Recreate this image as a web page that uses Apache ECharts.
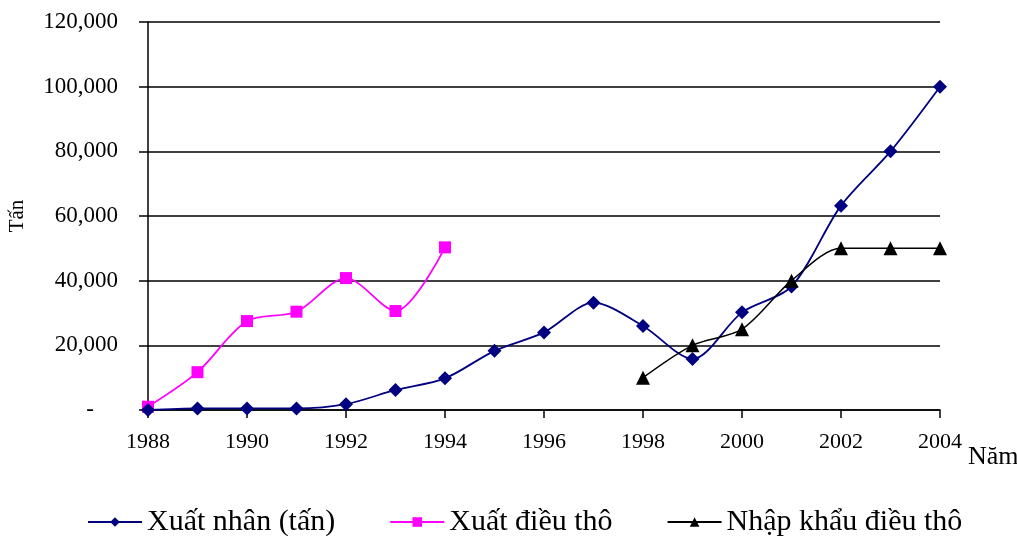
<!DOCTYPE html>
<html>
<head>
<meta charset="utf-8">
<script src="https://cdn.jsdelivr.net/npm/echarts@6/dist/echarts.min.js"></script>
<style>
  html, body { margin: 0; padding: 0; background: #fff; }
  #main { width: 1017px; height: 536px; }
</style>
</head>
<body>
<div id="main"></div>
<script>
// năm 1988 - 2004
const years = [1988, 1989, 1990, 1991, 1992, 1993, 1994, 1995, 1996,
               1997, 1998, 1999, 2000, 2001, 2002, 2003, 2004];
const xuatNhan = [0, 500, 500, 500, 1800, 6200, 9800, 18300, 24000,
                  33200, 26000, 15800, 30200, 38200, 63200, 80000, 100000];
// chỉ có số liệu 1988 - 1994
const xuatDieuTho = [1000, 11700, 27500, 30400, 40800, 30600, 50300];
// chỉ có số liệu 1998 - 2004
const nhapKhau = [10000, 20000, 25000, 40000, 50000, 50000, 50000];

const FONT = '"Liberation Serif", "Times New Roman", serif';

function pairs(startYear, vals) {
    let start = years.indexOf(startYear);
    return vals.map((v, i) => [years[start + i], v]);
}

let chart = echarts.init(document.getElementById('main'), null, {renderer: 'canvas'});

let option = {
    animation: false,
    backgroundColor: '#fff',
    textStyle: {fontFamily: FONT, color: '#000'},
    grid: {left: 148, right: 77, top: 22, bottom: 126, containLabel: false, outerBoundsMode: 'none'},
    legend: {
        left: 82,
        top: 502,
        itemWidth: 54,
        itemHeight: 12,
        itemGap: 54,
        textStyle: {fontFamily: FONT, fontSize: 30, color: '#000'},
        data: ['Xuất nhân (tấn)', 'Xuất điều thô', 'Nhập khẩu điều thô']
    },
    xAxis: {
        type: 'value',
        min: 1988,
        max: 2004,
        interval: 2,
        name: 'Năm',
        nameLocation: 'end',
        nameGap: 46,
        nameTextStyle: {fontFamily: FONT, fontSize: 26, color: '#000', align: 'center',
                        verticalAlign: 'top', padding: [34, 0, 0, 0]},
        axisLine: {lineStyle: {color: '#000', width: 1.5}},
        axisTick: {show: true, inside: false, length: 8, lineStyle: {color: '#000', width: 1.5}},
        axisLabel: {fontFamily: FONT, fontSize: 22, color: '#000', margin: 21,
                    formatter: v => String(v)},
        splitLine: {show: false}
    },
    yAxis: {
        type: 'value',
        min: 0,
        max: 120000,
        interval: 20000,
        name: 'Tấn',
        nameLocation: 'middle',
        nameRotate: 90,
        nameGap: 120,
        nameTextStyle: {fontFamily: FONT, fontSize: 21, color: '#000'},
        axisLine: {show: true, lineStyle: {color: '#000', width: 1.5}},
        axisTick: {show: true, inside: false, length: 9, lineStyle: {color: '#000', width: 1.5}},
        axisLabel: {
            fontFamily: FONT, fontSize: 23, color: '#000', margin: 30,
            formatter: v => v === 0 ? '{dash|-}' : v.toLocaleString('en-US'),
            rich: {dash: {fontFamily: FONT, fontSize: 23, color: '#000', padding: [0, 24, 0, 0]}}
        },
        splitLine: {show: true, lineStyle: {color: '#000', width: 1.5}}
    },
    series: [
        {
            name: 'Xuất nhân (tấn)',
            type: 'line',
            smooth: 0.3,
            symbol: 'diamond',
            symbolSize: 14,
            color: '#000080',
            lineStyle: {width: 1.8, color: '#000080'},
            data: pairs(1988, xuatNhan),
            z: 3
        },
        {
            name: 'Xuất điều thô',
            type: 'line',
            smooth: 0.3,
            symbol: 'rect',
            symbolSize: 12,
            color: '#ff00ff',
            lineStyle: {width: 1.8, color: '#ff00ff'},
            data: pairs(1988, xuatDieuTho),
            z: 2
        },
        {
            name: 'Nhập khẩu điều thô',
            type: 'line',
            smooth: 0.3,
            symbol: 'triangle',
            symbolSize: 14,
            color: '#000',
            lineStyle: {width: 1.5, color: '#000'},
            data: pairs(1998, nhapKhau),
            z: 4
        }
    ]
};

chart.setOption(option);
</script>
</body>
</html>
